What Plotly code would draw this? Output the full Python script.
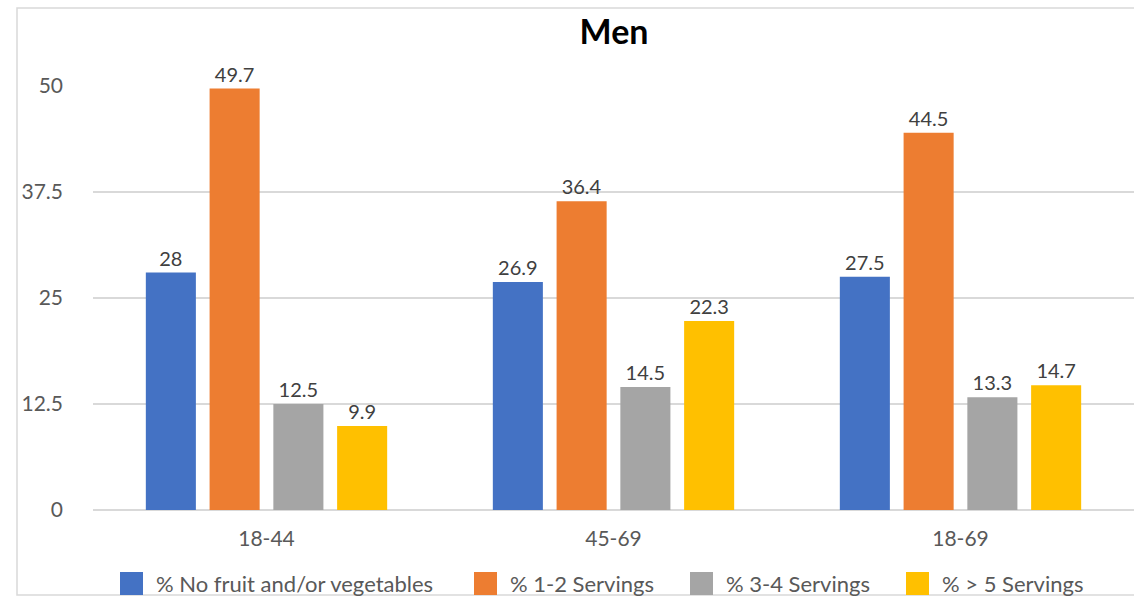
import plotly.graph_objects as go

age_groups = ["18-44", "45-69", "18-69"]
series_names = ["% No fruit and/or vegetables", "% 1-2 Servings", "% 3-4 Servings", "% > 5 Servings"]
no_fruit_veg = [28, 26.9, 27.5]
servings_1_2 = [49.7, 36.4, 44.5]
servings_3_4 = [12.5, 14.5, 13.3]
servings_5_plus = [9.9, 22.3, 14.7]
y_ticks = [0, 12.5, 25, 37.5, 50]

colors = ["#4472C4", "#ED7D31", "#A5A5A5", "#FFC000"]
font_family = "Lato, 'Open Sans', sans-serif"
text_grey = "#595959"

W, H = 1134, 597
L, R, T, B = 93, 0, 86, 87
plot_w, plot_h = W - L - R, H - T - B


def px_to_paper_x(px):
    return (px - L) / plot_w


def px_to_paper_y(py):
    return (H - B - py) / plot_h


fig = go.Figure()
for name, vals, col in zip(series_names,
                           [no_fruit_veg, servings_1_2, servings_3_4, servings_5_plus],
                           colors):
    fig.add_trace(go.Bar(
        x=age_groups, y=vals, name=name,
        marker=dict(color=col, line=dict(width=0)),
        text=[f"{v:g}" for v in vals], textposition="outside",
        textfont=dict(size=20, color="#404040", family=font_family),
        cliponaxis=False,
    ))

# light frame around the whole chart
fig.add_shape(type="rect", xref="paper", yref="paper",
              x0=px_to_paper_x(17), x1=px_to_paper_x(W + 20),
              y0=px_to_paper_y(595), y1=px_to_paper_y(8),
              line=dict(color="#D9D9D9", width=1.5), layer="below")

# legend row along the bottom: colour key + series name
legend_keys_px = [120, 474, 690, 906]
key_size = 23
legend_mid_y = 583
for name, col, kx in zip(series_names, colors, legend_keys_px):
    fig.add_shape(type="rect", xref="paper", yref="paper",
                  x0=px_to_paper_x(kx), x1=px_to_paper_x(kx + key_size),
                  y0=px_to_paper_y(572 + key_size), y1=px_to_paper_y(572),
                  fillcolor=col, line=dict(width=0))
    fig.add_annotation(xref="paper", yref="paper",
                       x=px_to_paper_x(kx + key_size + 11), y=px_to_paper_y(legend_mid_y),
                       xanchor="left", yanchor="middle", showarrow=False,
                       text=name, font=dict(size=22, color=text_grey, family=font_family))

fig.update_layout(
    width=W, height=H,
    margin=dict(l=L, r=R, t=T, b=B),
    paper_bgcolor="white", plot_bgcolor="white",
    barmode="group", bargap=0.265, bargroupgap=0.215,
    showlegend=False,
    title=dict(text="<b>Men</b>", x=614 / W, xanchor="center",
               y=1 - 32 / H, yanchor="middle",
               font=dict(size=34, color="#000000", family=font_family)),
    font=dict(family=font_family, color=text_grey, size=21),
    xaxis=dict(showgrid=False, showline=False, ticks="", ticklabelstandoff=14,
               automargin=False, tickfont=dict(size=21, color=text_grey)),
    yaxis=dict(range=[0, 50], tickvals=y_ticks, ticktext=[f"{t:g}" for t in y_ticks],
               showgrid=True, gridcolor="#D9D9D9", gridwidth=2, zeroline=True,
               zerolinecolor="#D9D9D9", zerolinewidth=2, showline=False,
               ticks="", ticklabelstandoff=29, automargin=False,
               tickfont=dict(size=21, color=text_grey)),
)

fig.write_html("out.html")
